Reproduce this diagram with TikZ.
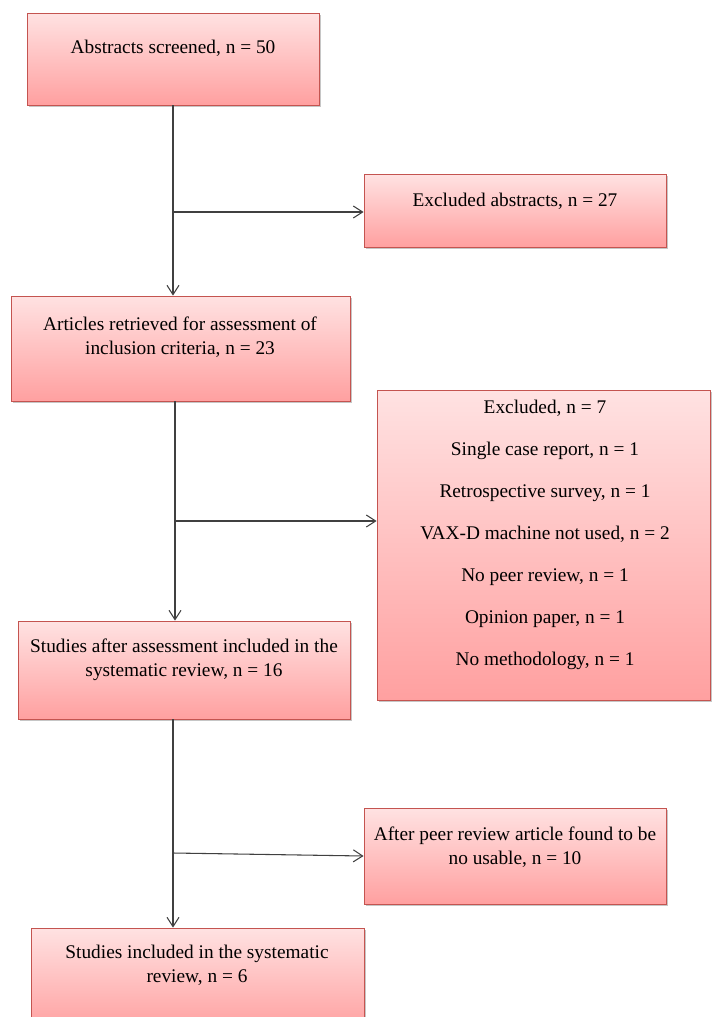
\documentclass[tikz,border=0pt]{standalone}
\usepackage{fontspec}
\setmainfont{Liberation Serif}
\usetikzlibrary{arrows.meta,fit,shadows}
\definecolor{boxtop}{RGB}{255,226,226}
\definecolor{boxbot}{RGB}{255,160,160}
\definecolor{boxline}{RGB}{196,84,80}
\begin{document}
\begin{tikzpicture}[x=0.75pt,y=-0.75pt]
\tikzstyle{box}=[draw=boxline, line width=0.6pt, top color=boxtop, bottom color=boxbot, inner sep=0pt, drop shadow={shadow xshift=1.5pt, shadow yshift=-1.5pt, opacity=0.45}]
\tikzstyle{txt}=[align=center, font=\fontsize{14.5}{18}\selectfont, inner sep=0pt]
\tikzstyle{arr}=[-{Straight Barb[length=7pt,width=9pt]}, line width=0.8pt, black!75]
\clip (0,0) rectangle (712,1017);
\node (screened) [box, fit={(27,13) (319,105)}] {};
\node (excl1) [box, fit={(364,174) (666,247)}] {};
\node (retrieved) [box, fit={(11,296) (350,401)}] {};
\node (excl2) [box, fit={(377,390) (710,700)}] {};
\node (assessed) [box, fit={(18,621) (350,719)}] {};
\node (peer) [box, fit={(364,808) (666,904)}] {};
\node (included) [box, fit={(31,928) (364,1030)}] {};
\node (screened-t) [txt] at (173,48) {Abstracts screened, n = 50};
\node (excl1-t) [txt] at (515,201) {Excluded abstracts, n = 27};
\node (retrieved-t) [txt] at (180,337) {Articles retrieved for assessment of\\inclusion criteria, n = 23};
\node (excl2-t) [txt, font=\fontsize{14.5}{31.5}\selectfont] at (545,535) {Excluded, n = 7\\Single case report, n = 1\\Retrospective survey, n = 1\\VAX-D machine not used, n = 2\\No peer review, n = 1\\Opinion paper, n = 1\\No methodology, n = 1};
\node (assessed-t) [txt] at (184,660) {Studies after assessment included in the\\systematic review, n = 16};
\node (peer-t) [txt] at (515,847) {After peer review article found to be\\no usable, n = 10};
\node (included-t) [txt] at (197,965) {Studies included in the systematic\\review, n = 6};
\coordinate (j1) at (173,212);
\coordinate (j2) at (175,521);
\coordinate (j3) at (173,853);
\draw[arr] (screened.south -| j1) -- (retrieved.north -| j1);
\draw[arr] (j1) -- (j1 -| excl1.west);
\draw[arr] (retrieved.south -| j2) -- (assessed.north -| j2);
\draw[arr] (j2) -- (j2 -| excl2.west);
\draw[arr] (assessed.south -| j3) -- (included.north -| j3);
\draw[arr] (j3) -- (peer.west);
\end{tikzpicture}
\end{document}
